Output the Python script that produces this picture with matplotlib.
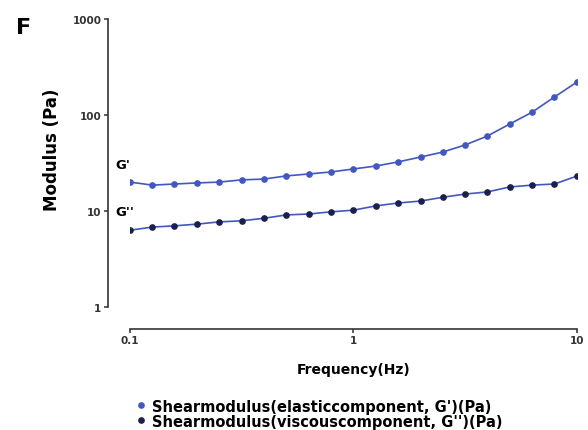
import matplotlib
matplotlib.use('Agg')
import matplotlib.pyplot as plt
import numpy as np

# frequency sweep, 21 points from 0.1 to 10 Hz
freq = [0.1, 0.126, 0.158, 0.2, 0.251, 0.316, 0.398, 0.501, 0.631, 0.794,
        1.0, 1.26, 1.58, 2.0, 2.51, 3.16, 3.98, 5.01, 6.31, 7.94, 10.0]
g_elastic = [20.0, 18.6, 19.1, 19.6, 20.0, 21.1, 21.5, 23.2, 24.3, 25.5,
             27.4, 29.4, 32.4, 36.5, 41.1, 48.7, 60.4, 80.6, 107, 154, 220]
g_viscous = [6.3, 6.8, 7.0, 7.3, 7.7, 7.9, 8.4, 9.1, 9.3, 9.8,
             10.2, 11.3, 12.1, 12.7, 13.9, 15.0, 15.8, 17.8, 18.6, 19.1, 23.1]

x_ticks = [0.1, 1, 10]
x_ticklabels = ['0.1', '1', '10']
y_ticks = [1, 10, 100, 1000]
y_ticklabels = ['1', '10', '100', '1000']

plt.rcParams['font.family'] = 'DejaVu Sans'
plt.rcParams['font.weight'] = 'bold'

fig = plt.figure(figsize=(5.88, 4.31), dpi=100)
ax = fig.add_axes([0.221, 0.2854, 0.76, 0.6682])

blue = '#4257c0'
navy = '#1c1f4a'
ax.plot(freq, g_elastic, color=blue, lw=1.2, marker='o', ms=3.8,
        mfc=blue, mec=blue, label="Shearmodulus(elasticcomponent, G')(Pa)")
ax.plot(freq, g_viscous, color=blue, lw=1.2, marker='o', ms=3.8,
        mfc=navy, mec=navy, label="Shearmodulus(viscouscomponent, G'')(Pa)")

ax.set_xscale('log')
ax.set_yscale('log')
ax.set_xlim(0.1, 10)
ax.set_ylim(1, 1000)

ax.set_xticks(x_ticks)
ax.set_xticklabels(x_ticklabels)
ax.set_yticks(y_ticks)
ax.set_yticklabels(y_ticklabels)
ax.minorticks_off()
ax.tick_params(labelsize=7.5, length=3, width=1.1, colors='#333333', pad=1.5)

for s in ['top', 'right']:
    ax.spines[s].set_visible(False)
ax.spines['left'].set_position(('outward', 16))
ax.spines['bottom'].set_position(('outward', 16))
ax.spines['left'].set_linewidth(1.2)
ax.spines['bottom'].set_linewidth(1.2)
ax.spines['left'].set_color('#333333')
ax.spines['bottom'].set_color('#333333')

ax.set_ylabel('Modulus (Pa)', fontsize=12, fontweight='bold')
ax.yaxis.set_label_coords(-0.155, 0.55)
ax.set_xlabel('Frequency(Hz)', fontsize=10, fontweight='bold', labelpad=12)

ax.text(0.086, 26, "G'", fontsize=9.5, fontweight='bold', ha='left', va='bottom')
ax.text(0.086, 8.5, "G''", fontsize=9.5, fontweight='bold', ha='left', va='bottom')

fig.text(0.028, 0.935, 'F', fontsize=16, fontweight='bold', ha='left', va='center')

leg = ax.legend(loc='upper left', bbox_to_anchor=(0.222, 0.09),
                bbox_transform=fig.transFigure, frameon=False,
                fontsize=10.5, labelspacing=0.0, handlelength=0.5,
                handletextpad=0.5, borderpad=0)
for h in leg.legend_handles:
    h.set_linestyle('None')

fig.savefig('out.png', dpi=100)
